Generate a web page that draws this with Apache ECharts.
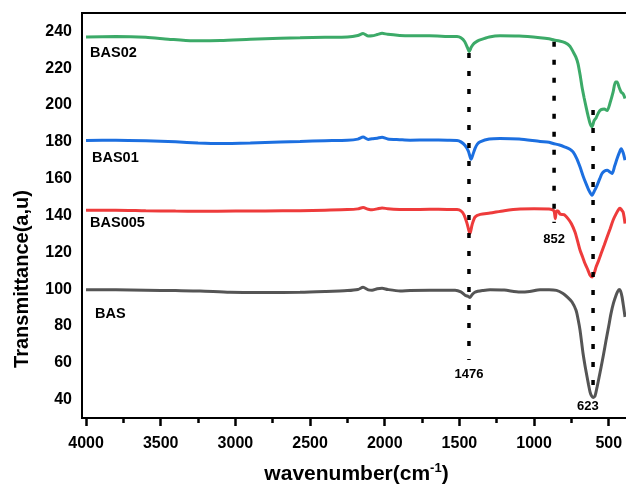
<!DOCTYPE html>
<html><head><meta charset="utf-8">
<script src="https://cdn.jsdelivr.net/npm/echarts@6/dist/echarts.min.js"></script>
<style>html,body{margin:0;padding:0;background:#fff}#c{width:626px;height:484px}</style>
</head><body><div id="c"></div>
<script>
// ---- data ----
const xMajorTicks = [4000, 3500, 3000, 2500, 2000, 1500, 1000, 500];
const xMinorTicks = [3750, 3250, 2750, 2250, 1750, 1250, 750];
const yTicks = [40, 60, 80, 100, 120, 140, 160, 180, 200, 220, 240];

const bas02Wn = [4000,3800,3600,3450,3284,3100,2900,2700,2567,2400,2250,2180,2145,2110,2085,2050,2018,1980,1900,1830,1700,1580,1516,1490,1465,1445,1435,1420,1402,1380,1362,1300,1228,1100,960,900,866,830,793,760,739,720,706,690,679,665,652,638,625,612,598,585,568,551,530,511,490,471,455,444,430,417,403,391];
const bas02Val = [237.0,237.2,236.8,235.8,234.9,235.0,235.7,236.3,236.5,236.8,237.0,237.8,238.9,237.5,237.6,238.3,239.0,238.4,237.8,237.6,237.6,237.3,237.2,236.5,234.5,231.0,229.0,231.5,233.5,234.7,235.4,237.0,237.7,237.5,236.6,236.0,235.3,234.8,233.9,232.0,229.0,226.0,222.5,215.5,209.8,204.0,199.0,194.0,190.0,188.2,191.5,193.0,196.0,197.5,197.8,197.0,201.5,207.0,212.5,212.5,209.5,207.0,206.0,203.5];

const bas01Wn = [4000,3800,3600,3400,3250,3100,2900,2700,2567,2400,2250,2180,2145,2110,2085,2050,2018,1980,1900,1830,1700,1580,1516,1490,1462,1440,1422,1410,1395,1380,1362,1300,1228,1100,960,900,873,830,793,760,739,715,692,672,652,632,612,595,578,560,545,528,511,495,478,460,444,430,417,403,391];
const bas01Val = [180.8,180.9,180.6,180.0,179.4,179.1,179.4,179.9,180.2,180.6,180.9,181.5,182.6,181.3,181.7,182.0,182.5,181.6,181.2,180.9,181.0,180.9,180.8,180.0,178.0,175.0,170.5,173.0,176.5,178.8,180.0,181.5,181.8,181.5,180.2,179.8,179.1,178.3,177.2,176.0,174.5,171.0,166.3,161.5,157.3,153.5,151.0,153.5,156.4,160.0,162.8,164.2,164.6,163.8,162.8,167.0,170.9,174.0,176.3,174.0,170.0];

const bas005Wn = [4000,3800,3600,3400,3237,3000,2800,2567,2400,2250,2180,2145,2110,2085,2050,2018,1980,1900,1830,1700,1580,1516,1490,1470,1450,1437,1429,1415,1395,1360,1295,1200,1094,1000,900,880,866,858,850,840,826,800,773,750,726,710,692,675,659,640,625,612,598,585,568,551,530,511,490,471,450,430,424,414,404,397,391];
const bas005Val = [142.8,142.9,142.6,142.4,142.3,142.4,142.5,142.6,142.9,143.2,143.6,144.3,143.4,143.1,143.6,144.1,143.7,143.3,143.2,143.4,143.3,143.2,142.5,140.5,136.0,132.0,130.2,135.0,139.2,140.6,141.3,142.6,143.5,143.6,143.5,143.2,142.5,138.3,142.5,142.5,140.7,140.5,138.3,135.5,131.0,126.5,121.1,117.5,113.9,110.5,107.5,106.6,108.5,112.0,115.5,119.3,124.0,128.3,133.0,137.4,141.0,143.7,144.0,143.0,141.9,139.0,135.6];

const basWn = [4000,3800,3600,3400,3237,3036,2800,2567,2400,2250,2180,2145,2110,2085,2050,2018,1980,1897,1830,1700,1529,1490,1462,1440,1429,1415,1395,1340,1295,1200,1094,1030,960,900,850,806,775,746,719,705,692,672,658,645,635,625,615,605,592,578,565,551,535,518,500,485,468,451,440,431,421,411,400,391];
const basVal = [99.7,99.6,99.4,99.2,99.0,98.3,98.2,98.3,98.7,99.2,99.8,101.0,99.6,99.4,100.2,100.5,99.8,99.0,99.3,99.4,99.4,98.5,96.7,96.0,95.5,97.0,98.4,99.3,99.7,99.5,98.4,98.7,99.7,99.7,99.3,97.6,95.5,93.0,88.5,83.5,77.6,65.0,58.0,52.3,48.0,44.1,42.0,41.1,42.0,46.9,52.0,57.7,64.5,72.2,80.0,86.7,92.5,96.7,98.8,99.8,99.0,95.8,90.0,84.9];

// dotted guide lines: wavenumber, top value, bottom value
const guideWn = [1436, 866, 605];
const guideTop = [228.3, 234.4, 197.3];
const guideBottom = [61.5, 135.9, 40.9];

// text annotations (anchor in data coordinates)
const seriesLabels = ['BAS02', 'BAS01', 'BAS005', 'BAS'];
const seriesLabelWn = [3973, 3960, 3973, 3940];
const seriesLabelVal = [228.5, 171.5, 135.7, 86.5];
const peakLabels = ['1476', '852', '623'];
const peakLabelWn = [1436, 866, 640];
const peakLabelVal = [53.9, 127.2, 36.5];

const colors = ['#3caa68', '#1c6fe0', '#ee3b3b', '#555555'];
const names = ['BAS02', 'BAS01', 'BAS005', 'BAS'];
const wnSets = [bas02Wn, bas01Wn, bas005Wn, basWn];
const valSets = [bas02Val, bas01Val, bas005Val, basVal];

const FONT = '"Liberation Sans", Arial, sans-serif';
const chart = echarts.init(document.getElementById('c'), null, {renderer: 'canvas'});

const series = names.map((n, i) => ({
  name: n, type: 'line', xAxisIndex: 0, yAxisIndex: 0,
  data: wnSets[i].map((w, k) => [w, valSets[i][k]]),
  showSymbol: false, symbol: 'none', smooth: 0.25,
  lineStyle: {color: colors[i], width: 3}, z: 3, animation: false
}));
guideWn.forEach((w, i) => {
  series.push({
    type: 'line', xAxisIndex: 0, yAxisIndex: 0, symbol: 'none', animation: false,
    data: [[w, guideTop[i]], [w, guideBottom[i]]],
    lineStyle: {color: '#000', width: 3.5, type: [5, 13], cap: 'butt'}, z: 4
  });
});

chart.setOption({
  backgroundColor: '#fff',
  animation: false,
  grid: {left: 82, right: -5, top: 13, bottom: 66, show: true, borderColor: '#000', borderWidth: 2,
         backgroundColor: 'transparent', containLabel: false, outerBoundsMode: 'none'},
  xAxis: [{
    type: 'value', inverse: true, min: 351, max: 4027, position: 'bottom',
    axisLine: {show: false},
    splitLine: {show: false},
    axisTick: {show: true, customValues: xMajorTicks, length: 8, lineStyle: {color: '#000', width: 2.5}},
    axisLabel: {show: true, customValues: xMajorTicks, margin: 18, color: '#000', fontSize: 16, fontWeight: 'bold', fontFamily: FONT,
                formatter: v => String(v)},
    name: '{a|wavenumber(cm}{s|-1}{a|)}', nameLocation: 'middle', nameGap: 44,
    nameTextStyle: {rich: {
      a: {fontSize: 21, fontWeight: 'bold', fontFamily: FONT, color: '#000', lineHeight: 24},
      s: {fontSize: 13, fontWeight: 'bold', fontFamily: FONT, color: '#000', lineHeight: 24, padding: [0, 0, 12, 0]}
    }}
  }, {
    type: 'value', inverse: true, min: 351, max: 4027, position: 'bottom', gridIndex: 0,
    axisLine: {show: false}, splitLine: {show: false}, axisLabel: {show: false},
    axisTick: {show: true, customValues: xMinorTicks, length: 5, lineStyle: {color: '#000', width: 2.5}}
  }],
  yAxis: [{
    type: 'value', min: 30, max: 250,
    axisLine: {show: false}, splitLine: {show: false},
    axisTick: {show: false},
    axisLabel: {show: true, customValues: yTicks, margin: 10, color: '#000', fontSize: 16, fontWeight: 'bold', fontFamily: FONT,
                formatter: v => String(v)}
  }],
  series: series
});

// text annotations placed through the axes' own scales
const graphics = [];
seriesLabels.forEach((t, i) => {
  const p = chart.convertToPixel({xAxisIndex: 0, yAxisIndex: 0}, [seriesLabelWn[i], seriesLabelVal[i]]);
  graphics.push({type: 'text', x: p[0], y: p[1], z: 10,
    style: {text: t, fill: '#000', font: 'bold 14.5px ' + FONT, textAlign: 'left', textVerticalAlign: 'middle'}});
});
peakLabels.forEach((t, i) => {
  const p = chart.convertToPixel({xAxisIndex: 0, yAxisIndex: 0}, [peakLabelWn[i], peakLabelVal[i]]);
  graphics.push({type: 'text', x: p[0], y: p[1], z: 10,
    style: {text: t, fill: '#000', font: 'bold 13px ' + FONT, textAlign: 'center', textVerticalAlign: 'middle'}});
});
graphics.push({type: 'text', x: 22, y: 279, rotation: Math.PI / 2, z: 10,
  style: {text: 'Transmittance(a,u)', fill: '#000', font: 'bold 20px ' + FONT, textAlign: 'center', textVerticalAlign: 'middle'}});
chart.setOption({graphic: graphics});
</script></body></html>
